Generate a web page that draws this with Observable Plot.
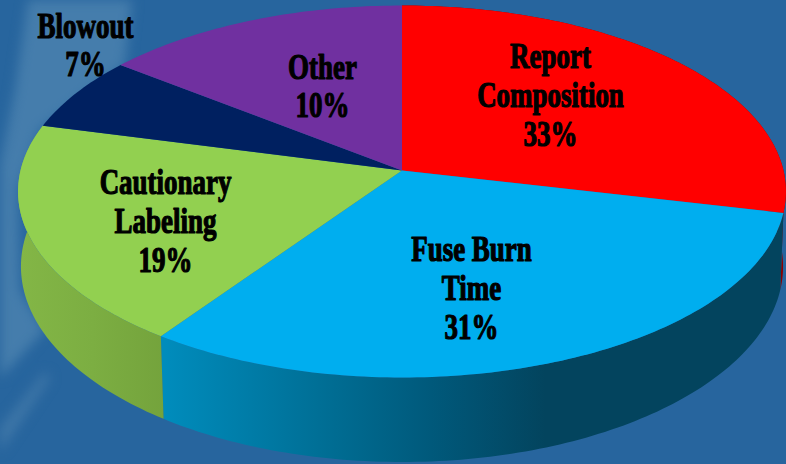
<!DOCTYPE html>
<html><head><meta charset="utf-8">
<script src="https://cdn.jsdelivr.net/npm/d3@7"></script>
<script src="https://cdn.jsdelivr.net/npm/@observablehq/plot@0.6"></script>
<style>
html,body{margin:0;padding:0;width:786px;height:464px;overflow:hidden;background:#27659e}
.streak{position:absolute;left:0;top:0;width:786px;height:464px;filter:blur(6px)}
.streak i{display:block;position:absolute;inset:0}
#s1{background:#457dac;clip-path:polygon(28px 0,132px 0,125px 65px,40px 130px,18px 190px,20px 290px,45px 330px,0 378px,0 165px,15px 90px)}
#s2{background:#3f77a8;clip-path:polygon(0 428px,45px 372px,50px 378px,0 452px)}
#c{position:absolute;left:0;top:0}
</style></head><body>
<div class="streak"><i id="s1"></i><i id="s2"></i></div>
<div id="c"></div>
<script>
const categories = ["Report\nComposition","Fuse Burn\nTime","Cautionary\nLabeling","Blowout","Other"];
const labelled = [33,31,19,7,10];
// angular sweep of each slice as drawn in the picture, in degrees
const drawnSweep = [103,112,69.5,23.4,52.1];
const topColors = ["#ff0000","#00aeef","#92d050","#002060","#7030a0"];
const wallFills = ["#8a0000","url(#wallBlue)","url(#wallGreen)","#001030","#3c1a58"];
const labelX = [550,471,165,85,322];
const labelY = [94,287,220,44,85];

const cx=401.5, cy=170, A=183.6, B=381.5, k=0.1129, depth=75;
const rad=d=>d*Math.PI/180;
const proj=t=>{const s=Math.sin(rad(t)),c=Math.cos(rad(t)),w=1/(1+k*c);return {x:cx+B*s*w,y:cy-A*c*w,w,c};};
const low=t=>{const p=proj(t);const shrink=0.993+0.005*p.c;return {x:cx+(p.x-cx)*shrink,y:p.y+depth*p.w};};
const arc=(a,b)=>d3.range(0,Math.ceil(b-a)+1).map(i=>Math.min(a+i,b));

let acc=0;
const slices=categories.map((c,i)=>{const a=acc;acc+=drawnSweep[i];return {i,a,b:acc};});
const topPts=s=>[{x:cx,y:cy},...arc(s.a,s.b).map(proj)];
const wallPts=s=>[...arc(s.a,s.b).map(proj),...arc(s.a,s.b).reverse().map(low)];

const defs=()=>{
  const d=d3.create("svg:defs");
  const grad=(id,x1,x2,stops)=>{
    const g=d.append("linearGradient").attr("id",id).attr("gradientUnits","userSpaceOnUse")
      .attr("x1",x1).attr("x2",x2).attr("y1",0).attr("y2",0);
    stops.forEach(([o,c])=>g.append("stop").attr("offset",o).attr("stop-color",c));
  };
  grad("wallBlue",164,545,[[0,"#008cbc"],[.45,"#006c92"],[.7,"#00597b"],[1,"#03445e"]]);
  grad("wallGreen",20,164,[[0,"#83b646"],[.5,"#7cae42"],[1,"#74a33c"]]);
  return d.node();
};

const labels=categories.map((c,i)=>({text:`${c}\n${labelled[i]}%`,x:labelX[i],y:labelY[i]}));

const chart=Plot.plot({
  width:786,height:464,margin:0,
  x:{domain:[0,786],range:[0,786],axis:null},
  y:{domain:[0,464],range:[0,464],axis:null},
  style:{background:"transparent"},
  marks:[
    defs,
    ...slices.filter(s=>s.i<3).map(s=>Plot.line(wallPts(s),{x:"x",y:"y",fill:wallFills[s.i],stroke:null,curve:"linear"})),
    ...slices.map(s=>Plot.line(topPts(s),{x:"x",y:"y",fill:topColors[s.i],stroke:null,curve:"linear"})),
    Plot.text(labels,{x:"x",y:"y",text:"text",fontFamily:"Liberation Serif",fontWeight:"bold",fontSize:35,lineHeight:1.11,fill:"#000",stroke:"#000",strokeWidth:1.2,textAnchor:"middle"})
  ]
});
document.getElementById("c").appendChild(chart);
d3.select(chart).selectAll("text").attr("transform",function(){return (this.getAttribute("transform")||"")+" scale(.77,1)";});
</script></body></html>
